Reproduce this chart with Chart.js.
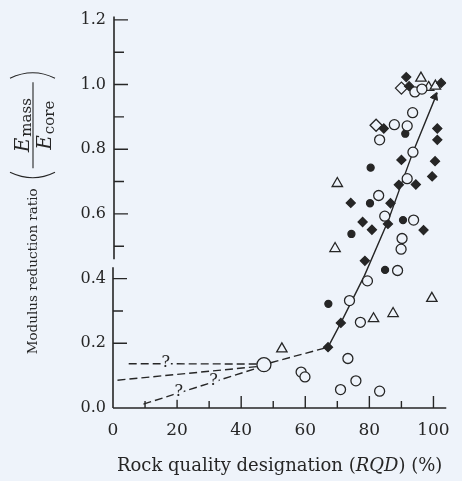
<!DOCTYPE html>
<html>
<head>
<meta charset="utf-8">
<script src="https://cdn.jsdelivr.net/npm/chart.js@4.4.0/dist/chart.umd.min.js"></script>
<style>
  html, body { margin: 0; padding: 0; background: #eef3fa; }
</style>
</head>
<body>
<canvas id="chartModulo" width="462" height="481"></canvas>
<script>
// valores: [RQD %, Emass/Ecore]
const circulosAbiertos = [
  [94.2, 0.977], [96.4, 0.986], [93.5, 0.913], [87.8, 0.876], [91.8, 0.872], [83.2, 0.829],
  [93.6, 0.791], [91.8, 0.709], [82.9, 0.657], [84.8, 0.593], [93.8, 0.581], [90.2, 0.524],
  [89.9, 0.491], [88.8, 0.425], [79.4, 0.393], [73.8, 0.332], [77.2, 0.265], [73.3, 0.153],
  [58.7, 0.111], [59.9, 0.096], [75.8, 0.084], [71.0, 0.057], [83.2, 0.052]
];
const circulosLlenos = [
  [91.2, 0.848], [80.4, 0.743], [80.2, 0.633], [90.5, 0.581], [74.4, 0.538], [84.9, 0.427], [67.2, 0.322]
];
const rombosLlenos = [
  [91.5, 1.023], [92.4, 0.995], [102.4, 1.005], [84.5, 0.864], [101.2, 0.864], [101.2, 0.829],
  [90.0, 0.767], [100.5, 0.763], [89.2, 0.690], [94.5, 0.691], [99.6, 0.716], [74.2, 0.634],
  [86.6, 0.633], [77.9, 0.575], [85.8, 0.569], [80.8, 0.551], [96.9, 0.550], [78.6, 0.455],
  [71.1, 0.263], [67.1, 0.188]
];
const triangulos = [
  [96.1, 1.020], [98.5, 0.991], [100.6, 0.995], [70.0, 0.694], [69.3, 0.493], [99.5, 0.339],
  [81.3, 0.276], [87.4, 0.292], [52.7, 0.183]
];
const rombosAbiertos = [[90.0, 0.989], [82.1, 0.874]];
const circuloGrande = [[47.1, 0.134]];

// lineas de tendencia
const tendencia = [[67.1, 0.188], [71.1, 0.263], [78.5, 0.41], [85.8, 0.577], [93.6, 0.791], [101.2, 0.975]];
const flecha = [[100.4, 0.962]];
const tramoCentral = [[49.2, 0.14], [67.1, 0.188]];
const extrapSuperior = [[4.9, 0.137], [45.0, 0.136]];
const extrapMedia = [[1.4, 0.086], [45.0, 0.128]];
const extrapInferior = [[9.5, 0.012], [45.2, 0.124]];
const interrogaciones = [[16.5, 0.137], [20.5, 0.047], [31.4, 0.081]];

// ejes
const ticksX = [0, 20, 40, 60, 80, 100];
const ticksXMenores = [10, 30, 50, 70, 90];
const ticksY = [0, 0.2, 0.4, 0.6, 0.8, 1.0, 1.2];
const ticksYMenores = [0.3, 0.5, 0.7, 0.9, 1.1];
const corteEje = [0.435, 0.46];

const fondo = '#eef3fa';
const tinta = '#262626';
const fuente = '"DejaVu Serif", serif';

const puntos = arr => arr.map(([x, y]) => ({ x, y }));

const marcas = (data, estilo, radio, relleno, extra = {}) => ({
  data: puntos(data),
  pointStyle: estilo,
  pointRadius: radio,
  pointBackgroundColor: relleno,
  pointBorderColor: tinta,
  pointBorderWidth: 1.3,
  showLine: false,
  order: 0,
  ...extra
});

const linea = (data, dash) => ({
  data: puntos(data),
  showLine: true,
  borderColor: tinta,
  borderWidth: 1.4,
  borderDash: dash,
  pointRadius: 0,
  order: 1
});

const dibujoEjes = {
  id: 'dibujoEjes',
  beforeDraw(chart) {
    const ctx = chart.ctx;
    ctx.save();
    ctx.fillStyle = fondo;
    ctx.fillRect(0, 0, chart.width, chart.height);
    ctx.restore();
  },
  beforeDatasetsDraw(chart) {
    const { ctx, scales: { x, y } } = chart;
    const x0 = x.getPixelForValue(0);
    const y0 = y.getPixelForValue(0);
    ctx.save();
    ctx.strokeStyle = tinta;
    ctx.lineWidth = 1.6;
    ctx.beginPath();
    // eje y con corte
    ctx.moveTo(x0, y0);
    ctx.lineTo(x0, y.getPixelForValue(corteEje[0]));
    ctx.moveTo(x0 + 1, y.getPixelForValue(corteEje[1]));
    ctx.lineTo(x0 + 1, y.top);
    // eje x
    ctx.moveTo(x0, y0);
    ctx.lineTo(x.right, y0);
    ctx.stroke();

    ctx.lineWidth = 1.4;
    ctx.beginPath();
    ticksY.filter(v => v > 0).forEach(v => {
      const py = y.getPixelForValue(v);
      const dx = v > corteEje[1] ? 1 : 0;
      ctx.moveTo(x0 + dx, py);
      ctx.lineTo(x0 + dx + 14, py);
    });
    ticksYMenores.forEach(v => {
      const py = y.getPixelForValue(v);
      const dx = v > corteEje[1] ? 1 : 0;
      ctx.moveTo(x0 + dx, py);
      ctx.lineTo(x0 + dx + 10, py);
    });
    ticksX.filter(v => v > 0).forEach(v => {
      const px = x.getPixelForValue(v);
      ctx.moveTo(px, y0);
      ctx.lineTo(px, y0 - 12);
    });
    ticksXMenores.forEach(v => {
      const px = x.getPixelForValue(v);
      ctx.moveTo(px, y0);
      ctx.lineTo(px, y0 - 7);
    });
    ctx.stroke();
    ctx.restore();
  },
  afterDatasetsDraw(chart) {
    const { ctx, scales: { x, y } } = chart;
    ctx.save();
    ctx.font = '16px ' + fuente;
    ctx.textAlign = 'center';
    ctx.textBaseline = 'middle';
    interrogaciones.forEach(([vx, vy]) => {
      const px = x.getPixelForValue(vx);
      const py = y.getPixelForValue(vy);
      ctx.fillStyle = fondo;
      ctx.fillRect(px - 5, py - 8, 10, 15);
      ctx.fillStyle = tinta;
      ctx.fillText('?', px, py - 1);
    });
    ctx.restore();
  },
  afterDraw(chart) {
    const { ctx, chartArea } = chart;
    ctx.save();
    ctx.fillStyle = tinta;
    ctx.strokeStyle = tinta;
    ctx.textBaseline = 'middle';

    // titulo eje x
    const partes = [
      ['Rock quality designation (', '18px ' + fuente],
      ['RQD', 'italic 18px ' + fuente],
      [') (%)', '18px ' + fuente]
    ];
    let total = 0;
    partes.forEach(([t, f]) => { ctx.font = f; total += ctx.measureText(t).width; });
    let cx = (chartArea.left + chartArea.right) / 2 - total / 2;
    ctx.textAlign = 'left';
    partes.forEach(([t, f]) => {
      ctx.font = f;
      ctx.fillText(t, cx, 466);
      cx += ctx.measureText(t).width;
    });

    // titulo eje y (rotado)
    ctx.translate(33, (chartArea.top + chartArea.bottom) / 2);
    ctx.rotate(-Math.PI / 2);
    const txt = 'Modulus reduction ratio';
    ctx.font = '13.5px ' + fuente;
    const wTxt = ctx.measureText(txt).width;
    ctx.font = 'italic 20px ' + fuente;
    const wE = ctx.measureText('E').width;
    ctx.font = '15px ' + fuente;
    const wMass = ctx.measureText('mass').width;
    const wCore = ctx.measureText('core').width;
    const wFrac = 86;
    const largo = wTxt + 8 + 12 + wFrac + 12;
    let p = -largo / 2;
    ctx.font = '13.5px ' + fuente;
    ctx.fillText(txt, p, 0);
    p += wTxt + 8;
    ctx.lineWidth = 1.1;
    ctx.beginPath();
    ctx.moveTo(p + 8, -23);
    ctx.quadraticCurveTo(p - 3, 0, p + 8, 22);
    ctx.stroke();
    p += 12;
    ctx.beginPath();
    ctx.moveTo(p, 0);
    ctx.lineTo(p + wFrac, 0);
    ctx.stroke();
    ctx.textBaseline = 'alphabetic';
    const n0 = p + (wFrac - wE - wMass - 1) / 2;
    const d0 = p + (wFrac - wE - wCore - 1) / 2;
    ctx.font = 'italic 20px ' + fuente;
    ctx.fillText('E', n0, -4);
    ctx.fillText('E', d0, 18);
    ctx.font = '15px ' + fuente;
    ctx.fillText('mass', n0 + wE + 1, -2);
    ctx.fillText('core', d0 + wE + 1, 21);
    p += wFrac + 4;
    ctx.beginPath();
    ctx.moveTo(p, -23);
    ctx.quadraticCurveTo(p + 11, 0, p, 22);
    ctx.stroke();
    ctx.restore();
  }
};

const ctx = document.getElementById('chartModulo').getContext('2d');

const configChart = {
  type: 'scatter',
  data: {
    datasets: [
      marcas(circuloGrande, 'circle', 7, fondo),
      marcas(circulosAbiertos, 'circle', 5, fondo),
      marcas(circulosLlenos, 'circle', 3.5, tinta),
      marcas(rombosLlenos, 'rectRot', 4.5, tinta),
      marcas(triangulos, 'triangle', 6, fondo),
      marcas(rombosAbiertos, 'rectRot', 6, fondo),
      marcas(flecha, 'triangle', 4.5, tinta, { pointRotation: 22, pointBorderWidth: 1 }),
      linea(tendencia, []),
      linea(tramoCentral, [8, 4]),
      linea(extrapSuperior, [8, 4]),
      linea(extrapMedia, [8, 4]),
      linea(extrapInferior, [8, 4])
    ]
  },
  options: {
    responsive: false,
    animation: false,
    devicePixelRatio: 1,
    layout: { padding: { top: 14, right: 5, left: 0, bottom: 0 } },
    plugins: { legend: { display: false }, tooltip: { enabled: false } },
    scales: {
      x: {
        type: 'linear',
        min: 0,
        max: 104,
        afterFit: s => { s.height = 73; },
        afterBuildTicks: s => { s.ticks = ticksX.map(v => ({ value: v })); },
        grid: { display: false, drawTicks: false },
        border: { display: false },
        ticks: { color: tinta, padding: 12, font: { family: fuente, size: 17 }, maxRotation: 0 }
      },
      y: {
        type: 'linear',
        min: 0,
        max: 1.21,
        afterFit: s => { s.width = 113; },
        afterBuildTicks: s => { s.ticks = ticksY.map(v => ({ value: v })); },
        grid: { display: false, drawTicks: false },
        border: { display: false },
        ticks: {
          color: tinta,
          padding: 7,
          font: { family: fuente, size: 16 },
          callback: v => v.toFixed(1)
        }
      }
    }
  },
  plugins: [dibujoEjes]
};

window.grafico = new Chart(ctx, configChart);
</script>
</body>
</html>
